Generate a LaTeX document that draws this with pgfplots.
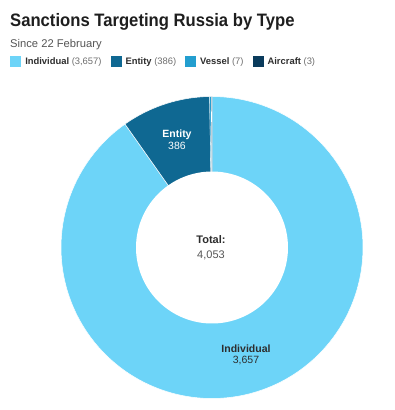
\documentclass[border=0pt]{standalone}
\usepackage{fontspec}
\setmainfont{Liberation Sans}
\usepackage{pgfplots}
\pgfplotsset{compat=1.18}
\definecolor{cInd}{RGB}{109,212,248}
\definecolor{cEnt}{RGB}{15,104,146}
\definecolor{cVes}{RGB}{35,158,207}
\definecolor{cAir}{RGB}{10,59,92}
\definecolor{cTitle}{RGB}{30,30,30}
\definecolor{cSub}{RGB}{85,85,85}
\definecolor{cDark}{RGB}{45,45,45}
\definecolor{cGray}{RGB}{110,110,110}
\pgfmathsetmacro{\vInd}{3657}
\pgfmathsetmacro{\vEnt}{386}
\pgfmathsetmacro{\vVes}{7}
\pgfmathsetmacro{\vAir}{3}
\pgfmathsetmacro{\vTot}{\vInd+\vEnt+\vVes+\vAir}
\pgfmathsetmacro{\aA}{0}
\pgfmathsetmacro{\aB}{\vInd/\vTot*360}
\pgfmathsetmacro{\aC}{\aB+\vEnt/\vTot*360}
\pgfmathsetmacro{\aD}{\aC+\vVes/\vTot*360}
\pgfmathsetmacro{\aE}{360}
\def\R{151}
\def\r{76}
\begin{document}
\begin{tikzpicture}[x=1pt,y=1pt]
\useasboundingbox (0,0) rectangle (395,-410);
\node[anchor=base west, inner sep=0pt, text=cTitle, font=\bfseries\fontsize{18}{20}\selectfont] at (10,-26) {\scalebox{0.925}[1]{Sanctions Targeting Russia by Type}};
\node[anchor=base west, inner sep=0pt, text=cSub, font=\fontsize{11.2}{13}\selectfont] at (10,-47) {Since 22 February};
\begin{axis}[at={(212pt,-247.5pt)}, anchor=center, width=320pt, height=320pt,
  scale only axis, xmin=-160, xmax=160, ymin=-160, ymax=160, hide axis, clip=false,
  legend columns=4,
  legend style={draw=none, fill=none, at={(-0.131,1.0797)}, anchor=west,
    font=\fontsize{9.4}{12}\selectfont, inner sep=0pt,
    nodes={inner xsep=4pt},
    /tikz/every even column/.append style={column sep=5pt}},
  legend cell align=left,
  legend image code/.code={\fill[#1,draw=none] (0pt,-5.5pt) rectangle (11pt,5.5pt);},
  every axis plot/.append style={draw=white, line width=0.5pt}]
\addplot[fill=cInd, domain=\aA:\aB, samples=150, variable=\t] ({\R*sin(\t)},{\R*cos(\t)}) -- (axis cs:0,0) -- cycle;
\addlegendentry{\textcolor{cDark}{\textbf{Individual}} \textcolor{cGray}{(3,657)}}
\addplot[fill=cEnt, domain=\aB:\aC, samples=30, variable=\t] ({\R*sin(\t)},{\R*cos(\t)}) -- (axis cs:0,0) -- cycle;
\addlegendentry{\textcolor{cDark}{\textbf{Entity}} \textcolor{cGray}{(386)}}
\addplot[fill=cVes, domain=\aC:\aD, samples=4, variable=\t, line width=0.3pt] ({\R*sin(\t)},{\R*cos(\t)}) -- (axis cs:0,0) -- cycle;
\addlegendentry{\textcolor{cDark}{\textbf{Vessel}} \textcolor{cGray}{(7)}}
\addplot[fill=cAir, domain=\aD:\aE, samples=4, variable=\t, line width=0.3pt] ({\R*sin(\t)},{\R*cos(\t)}) -- (axis cs:0,0) -- cycle;
\addlegendentry{\textcolor{cDark}{\textbf{Aircraft}} \textcolor{cGray}{(3)}}
\addplot[fill=white, draw=none, domain=0:360, samples=180, forget plot] ({\r*sin(x)},{\r*cos(x)}) -- cycle;
\node[align=center, text=white, font=\fontsize{10.5}{11.5}\selectfont] at (axis cs:-35,108) {\textbf{Entity}\\386};
\node[align=center, font=\fontsize{11}{15}\selectfont] at (axis cs:-1,0) {\textcolor{cDark}{\textbf{Total:}}\\\textcolor{cSub}{4,053}};
\node[align=center, font=\fontsize{10.5}{11}\selectfont] at (axis cs:34,-107.5) {\textcolor{cDark}{\textbf{Individual}}\\\textcolor{cDark}{3,657}};
\end{axis}
\end{tikzpicture}
\end{document}
